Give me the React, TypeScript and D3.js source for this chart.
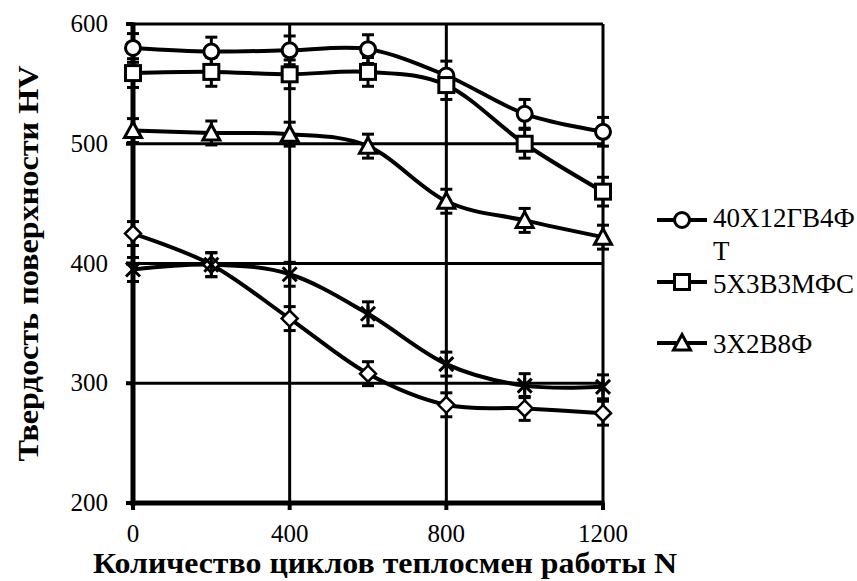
import React from "react";
import * as d3 from "d3";

const cycles = [0, 200, 400, 600, 800, 1000, 1200];
const xTicks = [0, 400, 800, 1200];
const yTicks = [200, 300, 400, 500, 600];

const steel40 = [580, 577, 578, 579, 557, 525, 510];
const steel5 = [559, 560, 558, 560, 549, 500, 460];
const steel3 = [511, 509, 508, 498, 452, 436, 422];
const steelDiamond = [425, 399, 354, 308, 282, 279, 275];
const steelStar = [395, 399, 391, 358, 316, 298, 297];
const errorHalf = [12, 12, 10, 10, 10];

const seriesNames = ["40Х12ГВ4Ф", "5Х3В3МФС", "3Х2В8Ф", "", ""];
const markerKinds = ["circle", "square", "triangle", "diamond", "star"];
const seriesValues = [steel40, steel5, steel3, steelDiamond, steelStar];

const W = 857;
const H = 581;
const FONT = "'Liberation Serif', 'Times New Roman', serif";

function Marker({ kind, cx, cy }: { kind: string; cx: number; cy: number }) {
  const sw = 3;
  if (kind === "circle")
    return <circle cx={cx} cy={cy} r={7.5} fill="#fff" stroke="#000" strokeWidth={sw} />;
  if (kind === "square")
    return <rect x={cx - 7.5} y={cy - 7.5} width={15} height={15} fill="#fff" stroke="#000" strokeWidth={sw} />;
  if (kind === "triangle")
    return (
      <path
        d={`M${cx},${cy - 8.5} L${cx + 8.5},${cy + 7} L${cx - 8.5},${cy + 7} Z`}
        fill="#fff"
        stroke="#000"
        strokeWidth={sw}
      />
    );
  if (kind === "diamond")
    return (
      <path
        d={`M${cx},${cy - 8} L${cx + 8},${cy} L${cx},${cy + 8} L${cx - 8},${cy} Z`}
        fill="#fff"
        stroke="#000"
        strokeWidth={2.5}
      />
    );
  return (
    <g stroke="#000" strokeWidth={3}>
      <line x1={cx - 7} y1={cy - 7} x2={cx + 7} y2={cy + 7} />
      <line x1={cx - 7} y1={cy + 7} x2={cx + 7} y2={cy - 7} />
      <line x1={cx} y1={cy - 8} x2={cx} y2={cy + 8} />
    </g>
  );
}

export default function App() {
  const x = d3.scaleLinear().domain([0, 1200]).range([133, 603]);
  const y = d3.scaleLinear().domain([200, 600]).range([503, 24]);
  const line = d3
    .line<number>()
    .x((_, i) => x(cycles[i]))
    .y((v) => y(v))
    .curve(d3.curveCardinal.tension(0));

  const legendY = [220, 282, 343];

  return (
    <svg
      width={W}
      height={H}
      style={{ position: "absolute", left: 0, top: 0, background: "#fff" }}
      fontFamily={FONT}
    >
      <rect width={W} height={H} fill="#fff" />
      {yTicks.slice(1).map((t) => (
        <line key={"gy" + t} x1={x(0)} x2={x(1200)} y1={y(t)} y2={y(t)} stroke="#000" strokeWidth={3} />
      ))}
      {xTicks.slice(1).map((t) => (
        <line key={"gx" + t} x1={x(t)} x2={x(t)} y1={y(600)} y2={y(200)} stroke="#000" strokeWidth={3} />
      ))}
      <line x1={x(0)} x2={x(0)} y1={y(600) - 1.5} y2={y(200) + 2.5} stroke="#000" strokeWidth={5} />
      <line x1={x(0) - 2.5} x2={x(1200) + 1.5} y1={y(200)} y2={y(200)} stroke="#000" strokeWidth={5} />
      {yTicks.map((t) => (
        <line key={"ty" + t} x1={x(0) - 7} x2={x(0)} y1={y(t)} y2={y(t)} stroke="#000" strokeWidth={4} />
      ))}
      {xTicks.map((t) => (
        <line key={"tx" + t} x1={x(t)} x2={x(t)} y1={y(200)} y2={y(200) + 7} stroke="#000" strokeWidth={4} />
      ))}
      {yTicks.map((t) => (
        <text key={"ly" + t} x={108} y={y(t) + 8} textAnchor="end" fontSize={25}>
          {t}
        </text>
      ))}
      {xTicks.map((t) => (
        <text key={"lx" + t} x={x(t)} y={542} textAnchor="middle" fontSize={25}>
          {t}
        </text>
      ))}
      <text x={93} y={573} fontSize={29} fontWeight="bold" textLength={584} lengthAdjust="spacingAndGlyphs">
        Количество циклов теплосмен работы N
      </text>
      <text
        transform={`translate(38, ${y(400)}) rotate(-90)`}
        textAnchor="middle"
        fontSize={29}
        fontWeight="bold"
        textLength={396}
        lengthAdjust="spacingAndGlyphs"
      >
        Твердость поверхности HV
      </text>
      {seriesValues.map((vals, si) => (
        <g key={"s" + si}>
          <path d={line(vals) || ""} fill="none" stroke="#000" strokeWidth={4} />
          {vals.map((v, i) => (
            <g key={i} stroke="#000" strokeWidth={3}>
              <line x1={x(cycles[i])} x2={x(cycles[i])} y1={y(v + errorHalf[si])} y2={y(v - errorHalf[si])} />
              <line x1={x(cycles[i]) - 6} x2={x(cycles[i]) + 6} y1={y(v + errorHalf[si])} y2={y(v + errorHalf[si])} />
              <line x1={x(cycles[i]) - 6} x2={x(cycles[i]) + 6} y1={y(v - errorHalf[si])} y2={y(v - errorHalf[si])} />
            </g>
          ))}
        </g>
      ))}
      {seriesValues.map((vals, si) =>
        vals.map((v, i) => <Marker key={si + "-" + i} kind={markerKinds[si]} cx={x(cycles[i])} cy={y(v)} />)
      )}
      {legendY.map((ly, i) => (
        <g key={"lg" + i}>
          <line x1={657} x2={707} y1={ly} y2={ly} stroke="#000" strokeWidth={4} />
          <Marker kind={markerKinds[i]} cx={682} cy={ly} />
        </g>
      ))}
      <text x={713} y={227} fontSize={27}>
        {seriesNames[0]}
      </text>
      <text x={713} y={260} fontSize={27}>
        Т
      </text>
      <text x={713} y={293} fontSize={27}>
        {seriesNames[1]}
      </text>
      <text x={713} y={353} fontSize={27}>
        {seriesNames[2]}
      </text>
    </svg>
  );
}
